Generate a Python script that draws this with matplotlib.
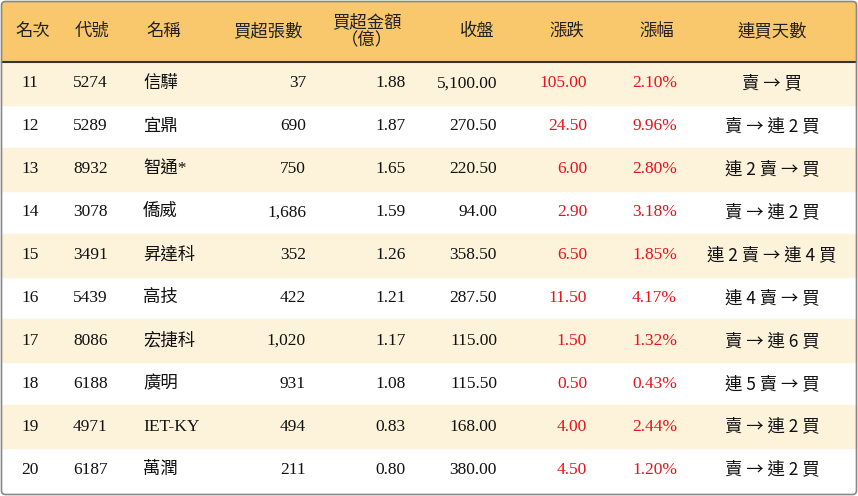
import matplotlib
matplotlib.use("Agg")
import matplotlib.pyplot as plt
from matplotlib.patches import Rectangle, FancyBboxPatch

headers = ["名次", "代號", "名稱", "買超張數", "買超金額\n（億）", "收盤", "漲跌", "漲幅", "連買天數"]
ranks = ["11", "12", "13", "14", "15", "16", "17", "18", "19", "20"]
codes = ["5274", "5289", "8932", "3078", "3491", "5439", "8086", "6188", "4971", "6187"]
names = ["信驊", "宜鼎", "智通*", "僑威", "昇達科", "高技", "宏捷科", "廣明", "IET-KY", "萬潤"]
net_lots = ["37", "690", "750", "1,686", "352", "422", "1,020", "931", "494", "211"]
net_amount = ["1.88", "1.87", "1.65", "1.59", "1.26", "1.21", "1.17", "1.08", "0.83", "0.80"]
close = ["5,100.00", "270.50", "220.50", "94.00", "358.50", "287.50", "115.00", "115.50", "168.00", "380.00"]
change = ["105.00", "24.50", "6.00", "2.90", "6.50", "11.50", "1.50", "0.50", "4.00", "4.50"]
pct = ["2.10%", "9.96%", "2.80%", "3.18%", "1.85%", "4.17%", "1.32%", "0.43%", "2.44%", "1.20%"]
streak = ["賣 → 買", "賣 → 連 2 買", "連 2 賣 → 買", "賣 → 連 2 買", "連 2 賣 → 連 4 買",
          "連 4 賣 → 買", "賣 → 連 6 買", "連 5 賣 → 買", "賣 → 連 2 買", "賣 → 連 2 買"]

W, H = 858, 496
fig = plt.figure(figsize=(W/100, H/100), dpi=100)
ax = fig.add_axes([0, 0, 1, 1])
ax.set_xlim(0, W); ax.set_ylim(H, 0); ax.axis("off")

fonts = ["Liberation Serif", "Noto Sans CJK TC"]
cjk_first = ["Noto Sans CJK TC", "Liberation Serif"]
head_h = 62
row_h = (491 - head_h) / len(ranks)
ax.add_patch(Rectangle((2, 2), W-4, head_h-2, color="#F9C86C", zorder=0))
for i in range(len(ranks)):
    y0 = head_h + i*row_h
    if i % 2 == 0:
        ax.add_patch(Rectangle((2, y0), W-4, row_h, color="#FDF3DB", zorder=0))
ax.plot([2, W-2], [head_h, head_h], color="#333333", lw=1.5)
ax.add_patch(FancyBboxPatch((1.5, 1.5), W-3, H-3, boxstyle="round,pad=0,rounding_size=4",
                            fill=False, ec="#888888", lw=1.2, zorder=5))

cols = [(30, "center"), (73, "left"), (143, "left"), (306, "right"), (406, "right"),
        (497, "right"), (587, "right"), (677, "right"), (772, "center")]
hx = [(33, "center"), (92, "center"), (164, "center"), (268, "center"), (367, "center"),
      (477, "center"), (567, "center"), (657, "center"), (772, "center")]
for (x, ha), h in zip(hx, headers):
    ax.text(x, head_h/2, h, ha=ha, va="center", fontsize=12.5,
            family=cjk_first, color="#222222", linespacing=1.0)

for i in range(len(ranks)):
    yc = head_h + (i+0.5)*row_h
    vals = [ranks[i], codes[i], names[i], net_lots[i], net_amount[i], close[i], change[i], pct[i], streak[i]]
    for j, ((x, ha), v) in enumerate(zip(cols, vals)):
        color = "#E8121B" if j in (6, 7) else "#111111"
        fam = cjk_first if j == 8 else fonts
        ax.text(x, yc, v, ha=ha, va="center", fontsize=12.5, family=fam, color=color)

fig.savefig("out.png", dpi=100)
